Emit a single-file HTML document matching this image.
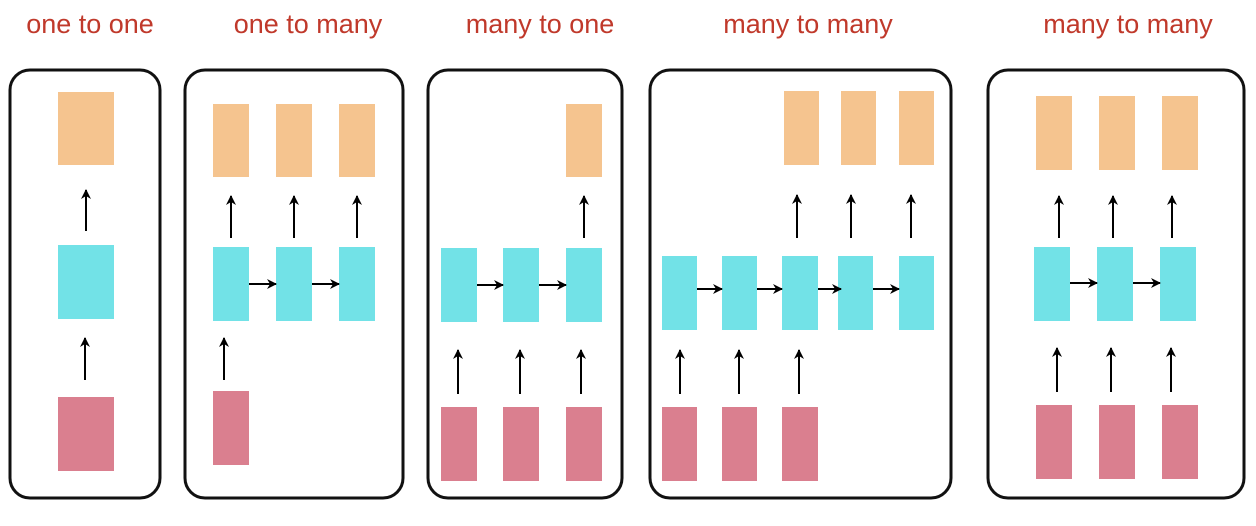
<!DOCTYPE html>
<html><head><meta charset="utf-8"><style>
html,body{margin:0;padding:0;background:#fff;}
svg{display:block;}
text{font-family:"Liberation Sans",sans-serif;font-size:27px;fill:#c0392b;text-anchor:middle;}
.b{fill:none;stroke:#111;stroke-width:3;}
.o{fill:#f5c48f}.c{fill:#72e2e7}.p{fill:#da7f8f}
.a{stroke:#000;stroke-width:2;marker-end:url(#h);}
</style></head><body>
<svg width="1256" height="526" viewBox="0 0 1256 526">
<defs><marker id="h" markerWidth="10" markerHeight="10" refX="9" refY="5" orient="auto" markerUnits="userSpaceOnUse"><path d="M0,0 L10,5 L0,10 L3,5 Z" fill="#000"/></marker></defs>
<text x="90" y="33">one to one</text>
<text x="308" y="33">one to many</text>
<text x="540" y="33">many to one</text>
<text x="808" y="33">many to many</text>
<text x="1128" y="33">many to many</text>

<rect class="b" x="10" y="70" width="150" height="428" rx="20"/>
<rect class="b" x="185" y="70" width="218" height="428" rx="20"/>
<rect class="b" x="428" y="70" width="194" height="428" rx="20"/>
<rect class="b" x="650" y="70" width="301" height="428" rx="20"/>
<rect class="b" x="988" y="70" width="256" height="428" rx="20"/>

<!-- panel 1 -->
<rect class="o" x="58" y="92" width="56" height="73"/>
<rect class="c" x="58" y="245" width="56" height="74"/>
<rect class="p" x="58" y="397" width="56" height="74"/>
<line class="a" x1="86" y1="231" x2="86" y2="190"/>
<line class="a" x1="85" y1="380" x2="85" y2="338"/>

<!-- panel 2 -->
<rect class="o" x="213" y="104" width="36" height="73"/><rect class="o" x="276" y="104" width="36" height="73"/><rect class="o" x="339" y="104" width="36" height="73"/>
<rect class="c" x="213" y="247" width="36" height="74"/><rect class="c" x="276" y="247" width="36" height="74"/><rect class="c" x="339" y="247" width="36" height="74"/>
<rect class="p" x="213" y="391" width="36" height="74"/>
<line class="a" x1="231" y1="238" x2="231" y2="196"/><line class="a" x1="294" y1="238" x2="294" y2="196"/><line class="a" x1="357" y1="238" x2="357" y2="196"/>
<line class="a" x1="249" y1="284" x2="276" y2="284"/><line class="a" x1="312" y1="284" x2="339" y2="284"/>
<line class="a" x1="224" y1="380" x2="224" y2="338"/>

<!-- panel 3 -->
<rect class="o" x="566" y="104" width="36" height="73"/>
<rect class="c" x="441" y="248" width="36" height="74"/><rect class="c" x="503" y="248" width="36" height="74"/><rect class="c" x="566" y="248" width="36" height="74"/>
<rect class="p" x="441" y="407" width="36" height="74"/><rect class="p" x="503" y="407" width="36" height="74"/><rect class="p" x="566" y="407" width="36" height="74"/>
<line class="a" x1="584" y1="238" x2="584" y2="196"/>
<line class="a" x1="477" y1="285" x2="503" y2="285"/><line class="a" x1="539" y1="285" x2="566" y2="285"/>
<line class="a" x1="458" y1="394" x2="458" y2="350"/><line class="a" x1="520" y1="394" x2="520" y2="350"/><line class="a" x1="581" y1="394" x2="581" y2="350"/>

<!-- panel 4 -->
<rect class="o" x="784" y="91" width="35" height="74"/><rect class="o" x="841" y="91" width="35" height="74"/><rect class="o" x="899" y="91" width="35" height="74"/>
<rect class="c" x="662" y="256" width="35" height="74"/><rect class="c" x="722" y="256" width="35" height="74"/><rect class="c" x="782" y="256" width="36" height="74"/><rect class="c" x="838" y="256" width="35" height="74"/><rect class="c" x="899" y="256" width="35" height="74"/>
<rect class="p" x="662" y="407" width="35" height="74"/><rect class="p" x="722" y="407" width="35" height="74"/><rect class="p" x="782" y="407" width="36" height="74"/>
<line class="a" x1="797" y1="238" x2="797" y2="195"/><line class="a" x1="851" y1="238" x2="851" y2="195"/><line class="a" x1="911" y1="238" x2="911" y2="195"/>
<line class="a" x1="697" y1="289" x2="722" y2="289"/><line class="a" x1="757" y1="289" x2="782" y2="289"/><line class="a" x1="818" y1="289" x2="841" y2="289"/><line class="a" x1="873" y1="289" x2="899" y2="289"/>
<line class="a" x1="680" y1="394" x2="680" y2="350"/><line class="a" x1="739" y1="394" x2="739" y2="350"/><line class="a" x1="799" y1="394" x2="799" y2="350"/>

<!-- panel 5 -->
<rect class="o" x="1036" y="96" width="36" height="74"/><rect class="o" x="1099" y="96" width="36" height="74"/><rect class="o" x="1162" y="96" width="36" height="74"/>
<rect class="c" x="1034" y="247" width="36" height="74"/><rect class="c" x="1097" y="247" width="36" height="74"/><rect class="c" x="1160" y="247" width="36" height="74"/>
<rect class="p" x="1036" y="405" width="36" height="74"/><rect class="p" x="1099" y="405" width="36" height="74"/><rect class="p" x="1162" y="405" width="36" height="74"/>
<line class="a" x1="1059" y1="238" x2="1059" y2="196"/><line class="a" x1="1113" y1="238" x2="1113" y2="196"/><line class="a" x1="1172" y1="238" x2="1172" y2="196"/>
<line class="a" x1="1070" y1="283" x2="1097" y2="283"/><line class="a" x1="1133" y1="283" x2="1160" y2="283"/>
<line class="a" x1="1057" y1="392" x2="1057" y2="348"/><line class="a" x1="1111" y1="392" x2="1111" y2="348"/><line class="a" x1="1171" y1="392" x2="1171" y2="348"/>
</svg>
</body></html>
